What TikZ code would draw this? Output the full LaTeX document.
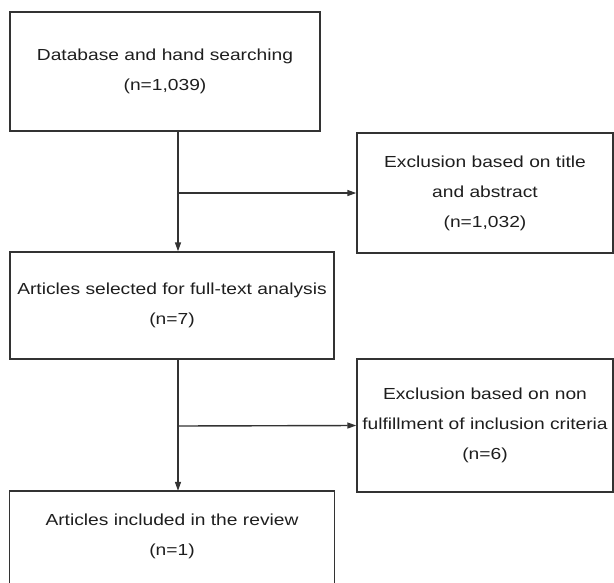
\documentclass[tikz,border=0pt]{standalone}
\usepackage{fontspec}
\setmainfont{Liberation Sans}[FakeStretch=1.2]
\usetikzlibrary{arrows.meta}

\definecolor{inkline}{HTML}{333333}
\definecolor{inktext}{HTML}{1E1E1E}

\begin{document}
\begin{tikzpicture}[x=1pt, y=-1pt,
    box/.style={draw=inkline, line width=1.4pt, rectangle, align=center, inner sep=0pt,
                text=inktext, font=\fontsize{16}{30}\selectfont},
    flow/.style={draw=inkline, line width=1.4pt, -{Triangle[length=9pt,width=6pt]}}]
        % Page frame
        \clip (0,0) rectangle (614,582);

        % Main column boxes
        \node[box, minimum width=310pt, minimum height=119pt] (search) at (165,71.5)
            {Database and hand searching\\(n=1,039)};
        \node[box, minimum width=324pt, minimum height=107pt] (fulltext) at (172,305.5)
            {Articles selected for full-text analysis\\(n=7)};
        \node[box, draw=none, minimum width=324pt, minimum height=90pt] (included) at (172,536.5)
            {Articles included in the review\\(n=1)};
        % last box runs off the page bottom
        \draw[inkline, line width=1.4pt] ([yshift=-10pt]included.south west)
            |- (included.north east) -- ([yshift=-10pt]included.south east);

        % Exclusion boxes
        \node[box, minimum width=256pt, minimum height=120pt] (exclA) at (485,193)
            {Exclusion based on title\\and abstract\\(n=1,032)};
        \node[box, minimum width=256pt, minimum height=133pt] (exclB) at (485,425.5)
            {Exclusion based on non\\fulfillment of inclusion criteria\\(n=6)};

        % Branch points on the main line
        \coordinate (splitA) at (178,193);
        \coordinate (splitB) at (178,426);

        % Main flow
        \draw[flow] (search.south -| splitA) -- (fulltext.north -| splitA);
        \draw[flow] (fulltext.south -| splitB) -- (included.north -| splitB);

        % Exclusion arrows
        \draw[flow] (splitA) -- (exclA.west);
        \draw[flow] (splitB) -- (exclB.west);
    \end{tikzpicture}
\end{document}
